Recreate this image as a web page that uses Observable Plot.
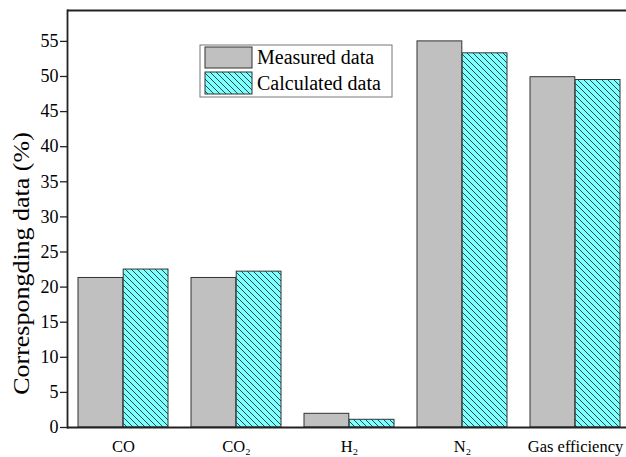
<!DOCTYPE html>
<html>
<head>
<meta charset="utf-8">
<script src="https://cdn.jsdelivr.net/npm/d3@7"></script>
<script src="https://cdn.jsdelivr.net/npm/@observablehq/plot@0.6"></script>
<style>
  body { margin: 0; background: #fff; }
  #chart { width: 626px; height: 457px; }
</style>
</head>
<body>
<div id="chart"></div>
<script>
// Gas composition and efficiency: measured vs. calculated
const categories = ["CO", "CO₂", "H₂", "N₂", "Gas efficiency"];
const measured = [21.3, 21.3, 1.95, 55.0, 49.9];
const calculated = [22.5, 22.2, 1.1, 53.3, 49.5];
const seriesNames = ["Measured data", "Calculated data"];
const yTicks = [0, 5, 10, 15, 20, 25, 30, 35, 40, 45, 50, 55];
const yTitle = "Correspongding data (%)";

const rows = categories.flatMap((c, i) => [
  {category: c, series: seriesNames[0], value: measured[i]},
  {category: c, series: seriesNames[1], value: calculated[i]}
]);

const W = 626, H = 457;
const xRange = [67, 632];
const padInner = 0.2, padOuter = 0.1;
const step = (xRange[1] - xRange[0]) / (categories.length - padInner + 2 * padOuter);
const half = step * (1 - padInner) / 2;
const yMax = 59.4;

const serif = "'Liberation Serif', 'Times New Roman', serif";

const chart = Plot.plot({
  width: W,
  height: H,
  marginLeft: 67,
  marginRight: 0,
  marginTop: 10,
  marginBottom: 30,
  style: {fontFamily: serif, background: "#fff", color: "#000"},
  x: {domain: categories, range: xRange, paddingInner: padInner, paddingOuter: padOuter, label: null},
  y: {domain: [0, yMax], label: null},
  marks: [
    Plot.barY(rows.filter(d => d.series === seriesNames[0]), {
      x: "category", y: "value", insetRight: half,
      fill: "#c0c0c0", stroke: "#333", strokeWidth: 1
    }),
    Plot.barY(rows.filter(d => d.series === seriesNames[1]), {
      x: "category", y: "value", insetLeft: half,
      fill: "url(#hatch)", stroke: "#333", strokeWidth: 1
    }),
    Plot.ruleY([0], {stroke: "#222", strokeWidth: 1.8}),
    Plot.ruleY([yMax], {stroke: "#222", strokeWidth: 2}),
    Plot.frame({anchor: "left", stroke: "#222", strokeWidth: 1.8}),
    Plot.axisY({ticks: yTicks, tickSize: 7, tickPadding: 2, fontSize: 18, stroke: "#222", strokeWidth: 1.3, label: null}),
    Plot.axisX({tickSize: 0, tickPadding: 13, fontSize: 16.5, label: null})
  ]
});

const svg = d3.select(chart);

// hatch pattern for the calculated series
const defs = svg.insert("defs", ":first-child");
const pat = defs.append("pattern")
  .attr("id", "hatch")
  .attr("patternUnits", "userSpaceOnUse")
  .attr("width", 6).attr("height", 6);
pat.append("rect").attr("width", 6).attr("height", 6).attr("fill", "#80ffff");
pat.append("path")
  .attr("d", "M0,0L6,6M-1,5L1,7M5,-1L7,1")
  .attr("stroke", "#1f4f4f").attr("stroke-width", 1);

// y-axis title (slightly condensed)
svg.append("text")
  .attr("transform", "translate(22,263.5) rotate(-90) scale(1,0.85)")
  .attr("text-anchor", "middle")
  .attr("dominant-baseline", "central")
  .attr("font-family", serif)
  .attr("font-size", 26)
  .attr("fill", "#000")
  .text(yTitle);

// legend box
const lg = svg.append("g").attr("font-family", serif).attr("font-size", 20).attr("text-anchor", "start");
lg.append("rect").attr("x", 200).attr("y", 45).attr("width", 192).attr("height", 52)
  .attr("fill", "#fff").attr("stroke", "#777").attr("stroke-width", 1);
const swatches = [
  {fill: "#c0c0c0", y: 47, h: 21, label: seriesNames[0]},
  {fill: "url(#hatch)", y: 72, h: 22, label: seriesNames[1]}
];
swatches.forEach(s => {
  lg.append("rect").attr("x", 205).attr("y", s.y).attr("width", 47).attr("height", s.h)
    .attr("fill", s.fill).attr("stroke", "#333").attr("stroke-width", 1);
  lg.append("text").attr("x", 257).attr("y", s.y + s.h - 4).attr("fill", "#000").text(s.label);
});

document.getElementById("chart").appendChild(chart);
</script>
</body>
</html>
